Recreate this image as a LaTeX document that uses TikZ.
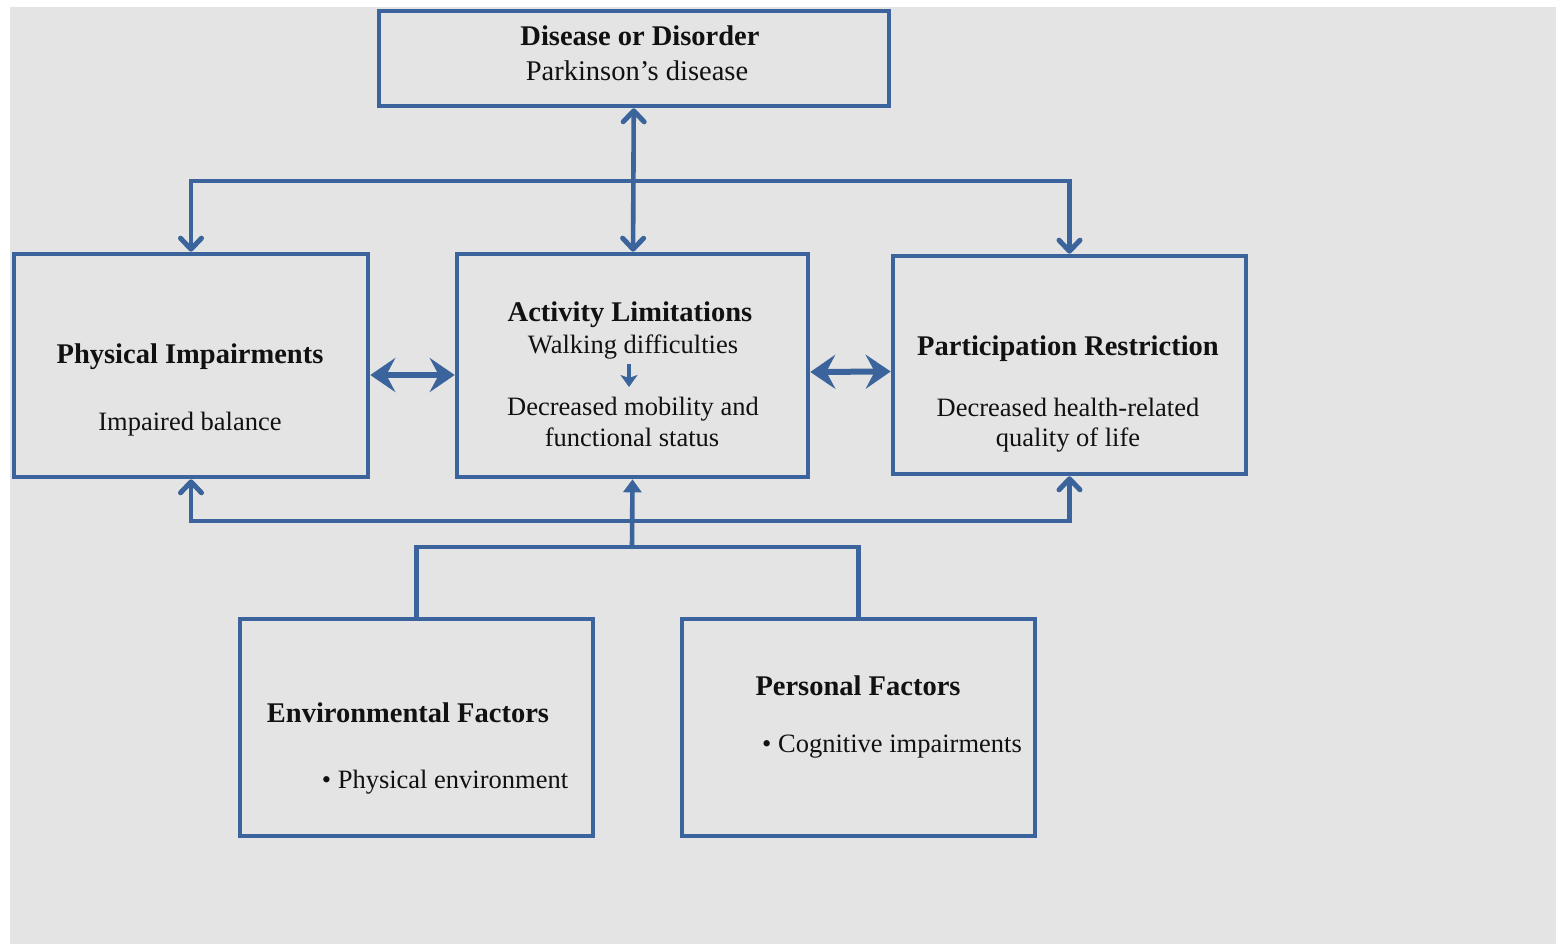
\documentclass[tikz,border=0pt]{standalone}
\usepackage{fontspec}
\setmainfont{Liberation Serif}
\usetikzlibrary{arrows.meta}
\definecolor{icfblue}{HTML}{3A649B}
\definecolor{panel}{HTML}{E4E4E4}
\definecolor{ink}{HTML}{111111}
\begin{document}
\begin{tikzpicture}[x=1pt,y=-1pt,
  box/.style={draw=icfblue, line width=4.6pt, inner sep=0pt},
  ttl/.style={font=\fontsize{28.5}{32}\selectfont\bfseries, text=ink, inner sep=0pt, anchor=base},
  txt/.style={font=\fontsize{26.5}{30}\selectfont, text=ink, inner sep=0pt, anchor=base},
  conn/.style={draw=icfblue, line width=4.6pt, line join=miter},
  wide/.style={draw=icfblue, line width=6pt},
  barb/.tip={Straight Barb[length=11pt, width=21pt, line width=5pt, round]},
  head/.tip={Triangle[length=13pt, width=18pt]},
  big/.tip={Stealth[length=25pt, width=34pt, inset=9pt]},
  tiny/.tip={Stealth[length=12pt, width=17pt, inset=3pt]}
]
\useasboundingbox (0,0) rectangle (1556,944);
\fill[panel] (10,7) rectangle (1556,944);

% boxes
\node[box, minimum width=510pt, minimum height=95pt]  (disease)       at (634,58.5)   {};
\node[box, minimum width=354pt, minimum height=223pt] (physical)      at (191,365.5)  {};
\node[box, minimum width=351pt, minimum height=223pt] (activity)      at (632.5,365.5){};
\node[box, minimum width=353pt, minimum height=218pt] (participation) at (1069.5,365) {};
\node[box, minimum width=353pt, minimum height=217pt] (environmental) at (416.5,727.5){};
\node[box, minimum width=353pt, minimum height=217pt] (personal)      at (858.5,727.5){};

% box texts
\node[ttl] (disT)  at (640,46)  {Disease or Disorder};
\node[txt, font=\fontsize{28.5}{32}\selectfont] (disS) at (637,81) {Parkinson’s disease};

\node[ttl] (phyT)  at (190,363) {Physical Impairments};
\node[txt] (phyS)  at (190,430) {Impaired balance};

\node[ttl] (actT)  at (630,321) {Activity Limitations};
\node[txt] (actS1) at (633,353) {Walking difficulties};
\node[txt] (actS2) at (633,415) {Decreased mobility and};
\node[txt] (actS3) at (632,446) {functional status};

\node[ttl] (parT)  at (1068,355) {Participation Restriction};
\node[txt] (parS1) at (1068,416) {Decreased health-related};
\node[txt] (parS2) at (1068,446) {quality of life};

\node[ttl] (envT)  at (408,722) {Environmental Factors};
\node[txt] (envS)  at (445,788) {• Physical environment};

\node[ttl] (perT)  at (858,695) {Personal Factors};
\node[txt] (perS)  at (892,752) {• Cognitive impairments};

% step arrow inside the activity box
\coordinate (stepA) at (629,364);
\coordinate (stepB) at (629,387);
\draw[draw=icfblue, line width=4pt, -{tiny}] (stepA) -- (stepB);

% links
\coordinate (topbus) at (634,181);
\coordinate (botbus) at (632,521);
\coordinate (fork)   at (632,547);

\draw[conn, {barb}-{barb}] (disease) -- (activity);
\draw[conn, {barb}-{barb}] (physical.north) |- (topbus) -| (participation.north);
\draw[conn, {barb}-{barb}] (physical.south) |- (botbus) -| (participation.south);
\draw[conn, -{head}] (fork) -- (activity.south);
\draw[conn] (environmental.north) |- (fork) -| (personal.north);

\draw[wide, {big}-{big}] ([yshift=-9.5pt]physical.east) -- ([yshift=-9.5pt]activity.west);
\draw[wide, {big}-{big}] ([yshift=-6.5pt]activity.east) -- ([yshift=-6.5pt]participation.west);
\end{tikzpicture}
\end{document}
